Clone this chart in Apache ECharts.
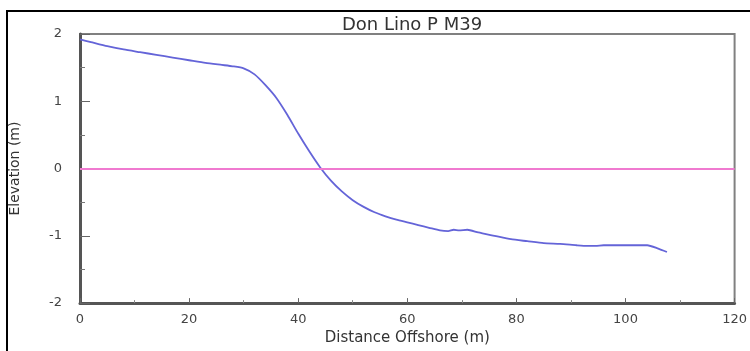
<!DOCTYPE html>
<html>
<head>
<meta charset="utf-8">
<script src="https://cdn.jsdelivr.net/npm/echarts@6/dist/echarts.min.js"></script>
<style>
html,body{margin:0;padding:0;background:#fff;}
#chart{width:750px;height:351px;}
</style>
</head>
<body>
<div id="chart"></div>
<script>
var titleText = "Don Lino P M39";
var xName = "Distance Offshore (m)";
var yName = "Elevation (m)";
var distance = [0, 2, 5, 8, 11, 14, 17, 20, 23, 26, 28, 30, 32, 34, 36, 38, 40, 42, 44, 46, 48, 50, 52, 54, 56, 58, 60, 62, 64, 66, 67.5, 68.5, 69.5, 71, 73, 76, 79, 82, 85, 88, 91, 93, 94.5, 96, 99, 102, 104, 106, 107.6];
var elevation = [1.92, 1.88, 1.82, 1.77, 1.73, 1.69, 1.65, 1.61, 1.57, 1.54, 1.52, 1.49, 1.40, 1.24, 1.05, 0.80, 0.52, 0.26, 0.02, -0.18, -0.34, -0.47, -0.57, -0.65, -0.71, -0.76, -0.80, -0.84, -0.88, -0.92, -0.93, -0.91, -0.92, -0.91, -0.95, -1.00, -1.05, -1.08, -1.11, -1.12, -1.14, -1.15, -1.15, -1.14, -1.14, -1.14, -1.14, -1.19, -1.24];
var referenceLevel = 0;

var chart = echarts.init(document.getElementById('chart'), null, {renderer: 'canvas'});
var profile = distance.map(function (d, i) { return [d, elevation[i]]; });
var font = 'DejaVu Sans';
chart.setOption({
  animation: false,
  backgroundColor: '#fff',
  title: {
    text: titleText,
    left: 407, top: 11, textAlign: 'center',
    textStyle: {fontFamily: font, fontSize: 18, fontWeight: 'normal', color: '#333'}
  },
  graphic: [
    {type: 'line', shape: {x1: 6, y1: 11, x2: 750, y2: 11}, style: {stroke: '#000', lineWidth: 2}},
    {type: 'line', shape: {x1: 7, y1: 10, x2: 7, y2: 351}, style: {stroke: '#000', lineWidth: 2}}
  ],
  grid: {left: 79, right: 14, top: 34, bottom: 44, show: true, borderColor: '#808080', borderWidth: 2, backgroundColor: '#fff'},
  xAxis: {
    type: 'value', min: 0, max: 120, interval: 20,
    name: xName, nameLocation: 'middle', nameGap: 27,
    nameTextStyle: {fontFamily: font, fontSize: 15, color: '#333'},
    axisLine: {show: true, onZero: false, lineStyle: {color: '#555', width: 3}},
    axisTick: {show: true, inside: true, length: 5, lineStyle: {color: '#666', width: 1}},
    minorTick: {show: true, splitNumber: 2, length: 3, lineStyle: {color: '#888'}},
    axisLabel: {fontFamily: font, fontSize: 13, color: '#444', margin: 10},
    splitLine: {show: false}
  },
  yAxis: {
    type: 'value', min: -2, max: 2, interval: 1,
    name: yName, nameLocation: 'middle', nameGap: 58, nameRotate: 90,
    nameTextStyle: {fontFamily: font, fontSize: 14, color: '#333'},
    axisLine: {show: true, onZero: false, lineStyle: {color: '#555', width: 3}},
    axisTick: {show: true, inside: true, length: 10, lineStyle: {color: '#666', width: 1}},
    minorTick: {show: true, splitNumber: 2, length: 5, lineStyle: {color: '#777'}},
    axisLabel: {fontFamily: font, fontSize: 13, color: '#444', margin: 18},
    splitLine: {show: false}
  },
  series: [
    {
      type: 'line',
      data: profile,
      showSymbol: false,
      symbol: 'none',
      smooth: 0.2,
      lineStyle: {color: '#6464d8', width: 1.8},
      z: 3,
      markLine: {
        silent: true, symbol: 'none', animation: false,
        label: {show: false},
        lineStyle: {color: '#f07ad0', width: 2, type: 'solid'},
        data: [{yAxis: referenceLevel}]
      }
    }
  ]
});
</script>
</body>
</html>
